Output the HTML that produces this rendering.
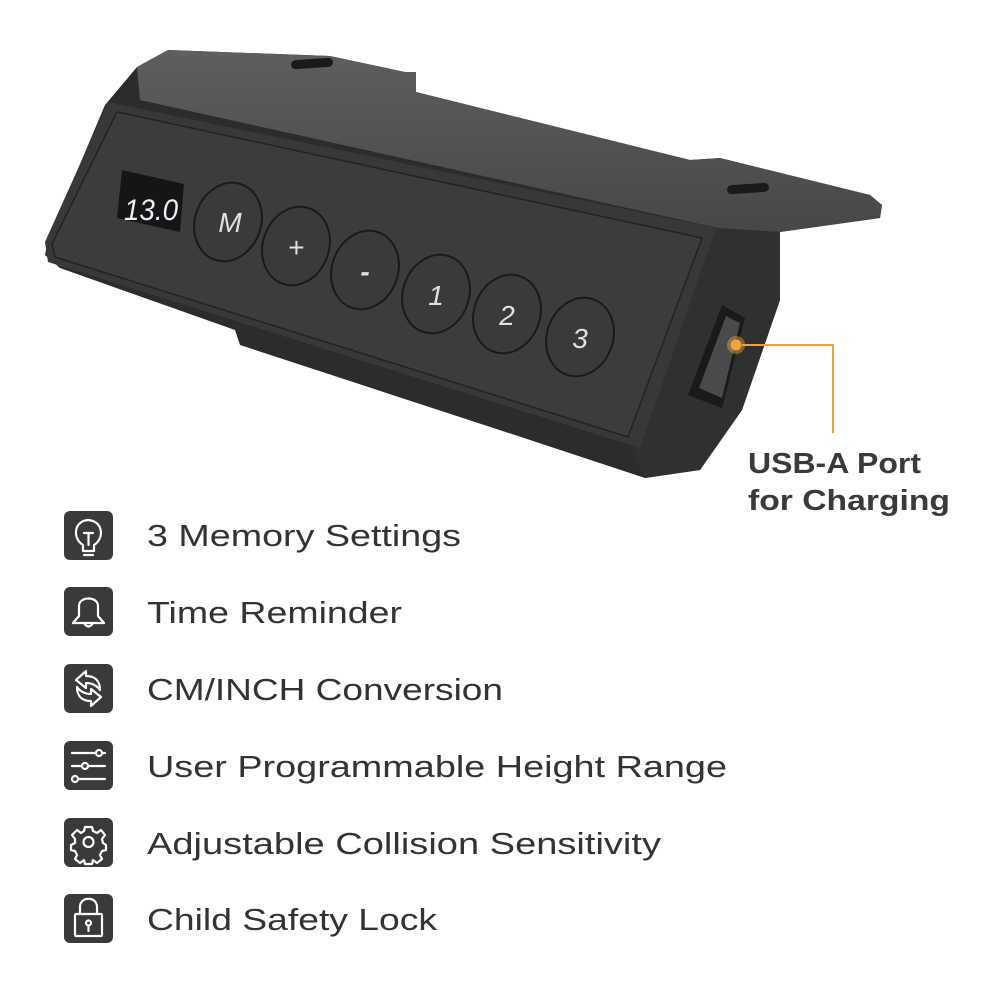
<!DOCTYPE html>
<html><head><meta charset="utf-8"><style>
html,body{margin:0;padding:0;background:#fff;width:1000px;height:1000px;overflow:hidden}
svg{display:block}
</style></head><body>
<svg width="1000" height="1000" viewBox="0 0 1000 1000" xmlns="http://www.w3.org/2000/svg" font-family="Liberation Sans, sans-serif">
<defs>
<linearGradient id="top" x1="0" y1="0" x2="0" y2="1"><stop offset="0" stop-color="#5e5e5e"/><stop offset="1" stop-color="#474747"/></linearGradient>
</defs>
<!-- body silhouette -->
<polygon points="137,67 168,50 330,56 405,72 416,72 416,92 690,160 720,158 870,195 882,205 880,218 780,232 780,300 742,410 700,470 645,478 530,440 240,345 235,330 60,268 45,255 48,240 105,105" fill="#2c2c2c"/>
<!-- top plate -->
<polygon points="137,67 168,50 330,56 405,72 416,72 416,92 690,160 720,158 870,195 882,205 880,218 780,232 718,228 140,100" fill="url(#top)"/>
<rect x="291" y="59" width="42" height="9" rx="4.5" fill="#1a1a1a" transform="rotate(-4 312 63)"/>
<rect x="727" y="184" width="42" height="9" rx="4.5" fill="#1a1a1a" transform="rotate(-4 748 188)"/>
<!-- right end face -->
<polygon points="715,228 780,232 780,300 742,410 700,470 645,478 630,445" fill="#303030"/>
<!-- usb port -->
<polygon points="722,305 745,318 722,408 688,395" fill="#1a1a1a"/>
<polygon points="726,316 740,323 722,398 699,388" fill="#4a4a4a"/>
<!-- front face -->
<polygon points="108,102 716,228 640,448 48,262 45,242" fill="#383838"/>
<polygon points="117,112 702,238 628,437 55,257 52,244" fill="#3c3c3c" stroke="#232323" stroke-width="1.5" stroke-linejoin="round"/>
<!-- display -->
<polygon points="122,170 184,184 180,232 117,218" fill="#151515"/>
<text x="124" y="220" font-size="30" fill="#e8eef5" textLength="54" lengthAdjust="spacingAndGlyphs" font-style="italic">13.0</text>
<!-- buttons -->
<g fill="#3a3a3a" stroke="#1a1a1a" stroke-width="2">
<ellipse cx="228" cy="222" rx="33" ry="40" transform="rotate(20 228 222)"/>
<ellipse cx="296" cy="246" rx="33" ry="40" transform="rotate(20 296 246)"/>
<ellipse cx="365" cy="270" rx="33" ry="40" transform="rotate(20 365 270)"/>
<ellipse cx="436" cy="294" rx="33" ry="40" transform="rotate(20 436 294)"/>
<ellipse cx="507" cy="314" rx="33" ry="40" transform="rotate(20 507 314)"/>
<ellipse cx="580" cy="337" rx="33" ry="40" transform="rotate(20 580 337)"/>
</g>
<g fill="#e0e0e0" font-size="28" text-anchor="middle" font-style="italic">
<text x="230" y="232">M</text>
<text x="296" y="257">+</text>
<text x="365" y="281" font-weight="bold">-</text>
<text x="436" y="305">1</text>
<text x="507" y="325">2</text>
<text x="580" y="348">3</text>
</g>
<!-- callout -->
<circle cx="736" cy="345" r="9" fill="#f0a040" opacity="0.45"/>
<circle cx="736" cy="345" r="5.5" fill="#f4a340"/>
<polyline points="742,345 833,345 833,433" fill="none" stroke="#f0a040" stroke-width="2"/>
<g font-weight="bold" font-size="29" fill="#3a3a3a">
<text x="748" y="473" textLength="173" lengthAdjust="spacingAndGlyphs">USB-A Port</text>
<text x="748" y="510" textLength="202" lengthAdjust="spacingAndGlyphs">for Charging</text>
</g>
<!-- icons -->
<g fill="#3c3a39">
<rect x="64" y="511" width="49" height="49" rx="6"/>
<rect x="64" y="587" width="49" height="49" rx="6"/>
<rect x="64" y="664" width="49" height="49" rx="6"/>
<rect x="64" y="741" width="49" height="49" rx="6"/>
<rect x="64" y="818" width="49" height="49" rx="6"/>
<rect x="64" y="894" width="49" height="49" rx="6"/>
</g>
<g fill="none" stroke="#fff" stroke-width="2.2" stroke-linecap="round" stroke-linejoin="round">
<path d="M83,545 C72,538 74,521 88,520 C103,521 105,538 94,545 L94,551 L83,551 Z"/><path d="M84,533 L93,533 M88.5,533 L88.5,545 M84,555 L93,555"/>
<path d="M73,623 L79,616 L79,606 C79,596 98,596 98,606 L98,616 L104,623 Z"/><path d="M84,623 Q88.5,630 93,623"/>
<path d="M100,690 C100,680 94,676 86,676 L86,671 L76,680 L86,688 L86,683 C92,683 97,686 100,690 M77,687 C77,697 83,701 91,701 L91,706 L101,697 L91,689 L91,694 C85,694 80,691 77,687"/>
<path d="M72,753 L96,753 M102,753 L105,753 M72,766 L82,766 M88,766 L105,766 M78,779 L105,779"/><circle cx="99" cy="753" r="3"/><circle cx="85" cy="766" r="3"/><circle cx="75" cy="779" r="3"/>
<circle cx="88.5" cy="842" r="5"/><path d="M85,827 L92,827 L93,831 L97,833 L101,830 L105,835 L102,839 L103,843 L106,845 L106,850 L102,851 L100,855 L102,859 L97,863 L93,860 L92,864 L85,864 L84,860 L80,863 L75,859 L77,855 L75,851 L71,850 L71,845 L75,843 L75,839 L72,835 L77,830 L81,833 L84,831 Z"/>
<rect x="75" y="914" width="27" height="22" rx="1"/><path d="M80,914 L80,907 C80,896 97,896 97,907 L97,914"/><circle cx="88.5" cy="923" r="2.5"/><path d="M88.5,926 L88.5,931"/>
</g>
<g font-size="31" fill="#333" lengthAdjust="spacingAndGlyphs">
<text x="147" y="546" textLength="314" lengthAdjust="spacingAndGlyphs">3 Memory Settings</text>
<text x="147" y="623" textLength="255" lengthAdjust="spacingAndGlyphs">Time Reminder</text>
<text x="147" y="700" textLength="356" lengthAdjust="spacingAndGlyphs">CM/INCH Conversion</text>
<text x="147" y="777" textLength="580" lengthAdjust="spacingAndGlyphs">User Programmable Height Range</text>
<text x="147" y="854" textLength="514" lengthAdjust="spacingAndGlyphs">Adjustable Collision Sensitivity</text>
<text x="147" y="930" textLength="290" lengthAdjust="spacingAndGlyphs">Child Safety Lock</text>
</g>
</svg>
</body></html>
